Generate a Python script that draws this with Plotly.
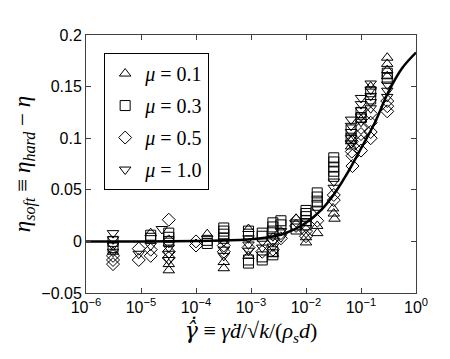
import plotly.graph_objects as go

# fitted curve
curve_x = [1e-6, 1e-5, 1e-4, 1e-3, 3.16e-3, 6.3e-3, 1e-2, 1.78e-2, 3.16e-2, 5.62e-2, 0.1, 0.178, 0.316, 0.562, 1.0]
curve_y = [0.0, 0.0, 0.0005, 0.002, 0.006, 0.012, 0.018, 0.029, 0.045, 0.066, 0.09, 0.115, 0.145, 0.168, 0.183]

x_ticks = [1e-6, 1e-5, 1e-4, 1e-3, 1e-2, 1e-1, 1]
x_ticklabels = ["10<sup>−6</sup>", "10<sup>−5</sup>", "10<sup>−4</sup>", "10<sup>−3</sup>",
                "10<sup>−2</sup>", "10<sup>−1</sup>", "10<sup>0</sup>"]
y_ticks = [-0.05, 0, 0.05, 0.1, 0.15, 0.2]
y_ticklabels = ["−0.05", "0", "0.05", "0.1", "0.15", "0.2"]

# mu = 0.1 (triangle up)
mu01_x = [3.1e-6, 1.5e-5, 3.2e-5, 3.2e-5, 1.6e-4, 3.2e-4, 3.2e-4, 9e-4, 9e-4, 2.5e-3, 6.6e-3,
          0.01, 0.01, 0.016, 0.016, 0.031, 0.032, 0.033, 0.066, 0.066, 0.1, 0.15, 0.3, 0.3, 0.3, 0.3]
mu01_y = [-0.01, 0.008, -0.022, -0.028, 0.007, -0.02, -0.026, -0.014, 0.012, -0.012, 0.022,
          -0.001, 0.004, 0.008, 0.015, 0.032, 0.027, 0.022, 0.097, 0.092, 0.118, 0.15, 0.178, 0.172, 0.166, 0.16]

# mu = 0.3 (square)
mu03_x = [3.1e-6, 3.1e-6, 1.5e-5, 1.5e-5, 3.2e-5, 3.2e-5, 3.2e-5, 1.6e-4, 1.6e-4, 3.2e-4, 3.2e-4, 3.2e-4, 3.2e-4,
          9e-4, 9e-4, 9e-4, 9e-4, 1.6e-3, 1.6e-3, 1.6e-3, 1.6e-3, 2.5e-3, 2.5e-3, 2.5e-3, 2.5e-3, 2.5e-3,
          3.5e-3, 3.5e-3, 6.6e-3, 6.6e-3, 0.01, 0.01, 0.01, 0.01, 0.01, 0.016, 0.016, 0.016, 0.016,
          0.032, 0.032, 0.032, 0.032, 0.032, 0.066, 0.066, 0.1, 0.1, 0.15, 0.15, 0.3, 0.3]
mu03_y = [0.0, -0.006, 0.006, 0.003, 0.008, 0.004, 0.0, 0.001, -0.002, 0.013, 0.01, 0.007, 0.003,
          0.01, 0.007, -0.018, -0.021, 0.008, 0.005, -0.015, -0.018, 0.018, 0.014, 0.01, -0.01, -0.013,
          0.02, 0.016, 0.016, 0.012, 0.03, 0.027, 0.024, 0.02, 0.016, 0.047, 0.043, 0.039, 0.035,
          0.081, 0.077, 0.072, 0.068, 0.063, 0.108, 0.1, 0.125, 0.12, 0.145, 0.138, 0.163, 0.158]

# mu = 0.5 (diamond)
mu05_x = [3.1e-6, 3.1e-6, 3.1e-6, 9.1e-6, 9.1e-6, 1.5e-5, 1.5e-5, 3.2e-5, 3.2e-5, 3.2e-5, 3.2e-5,
          1e-4, 1e-4, 3.2e-4, 3.2e-4, 9e-4, 1.6e-3, 2.5e-3, 2.5e-3, 3.5e-3, 3.5e-3, 6.6e-3, 6.6e-3,
          0.01, 0.01, 0.016, 0.032, 0.032, 0.068, 0.068, 0.07, 0.07, 0.1, 0.1, 0.1, 0.1,
          0.15, 0.15, 0.15, 0.15, 0.3, 0.3, 0.3]
mu05_y = [-0.014, -0.018, -0.022, -0.007, -0.018, -0.008, -0.014, 0.021, 0.0, -0.01, -0.016,
          0.0, -0.004, -0.004, -0.01, -0.006, -0.01, -0.008, 0.002, 0.008, 0.003, 0.02, 0.015,
          0.01, 0.005, 0.02, 0.045, 0.04, 0.097, 0.087, 0.083, 0.073, 0.11, 0.104, 0.097, 0.088,
          0.124, 0.115, 0.106, 0.1, 0.136, 0.131, 0.126]

# mu = 1.0 (triangle down)
mu10_x = [3.1e-6, 3.1e-6, 3.1e-6, 3.1e-6, 9.1e-6, 1.5e-5, 2.4e-5, 3.2e-5, 3.2e-5, 3.2e-5,
          3.2e-4, 3.2e-4, 3.2e-4, 9e-4, 9e-4, 9e-4, 1.6e-3, 1.6e-3, 2.5e-3, 2.5e-3, 2.5e-3,
          3.5e-3, 3.5e-3, 0.01, 0.016, 0.032, 0.032, 0.066, 0.066, 0.066, 0.066, 0.066,
          0.1, 0.1, 0.1, 0.1, 0.1, 0.15, 0.15, 0.15, 0.15, 0.15, 0.3, 0.3, 0.3]
mu10_y = [0.008, 0.002, -0.004, -0.01, -0.012, -0.004, 0.012, -0.006, -0.012, -0.018,
          0.0, -0.008, -0.014, 0.003, -0.003, -0.009, 0.0, -0.006, 0.005, 0.0, -0.005,
          0.01, 0.004, 0.013, 0.031, 0.058, 0.052, 0.118, 0.112, 0.106, 0.1, 0.095,
          0.139, 0.133, 0.127, 0.121, 0.116, 0.153, 0.147, 0.141, 0.135, 0.129, 0.152, 0.146, 0.14]

series = [
    (mu01_x, mu01_y, "triangle-up-open", "<i>μ</i> = 0.1"),
    (mu03_x, mu03_y, "square-open", "<i>μ</i> = 0.3"),
    (mu05_x, mu05_y, "diamond-open", "<i>μ</i> = 0.5"),
    (mu10_x, mu10_y, "triangle-down-open", "<i>μ</i> = 1.0"),
]

fig = go.Figure()
for i, (xs, ys, sym, name) in enumerate(series):
    fig.add_trace(go.Scatter(x=xs, y=ys, mode="markers", name=name, legendgroup=str(i),
                             marker=dict(symbol=sym, size=10, color="black", line=dict(width=1, color="black"))))

fig.add_trace(go.Scatter(x=curve_x, y=curve_y, mode="lines", line=dict(color="black", width=2.5, shape="spline"),
                         showlegend=False))

axis_common = dict(showline=True, linecolor="#404040", linewidth=1, mirror="ticks", ticks="inside",
                   ticklen=5, tickcolor="#404040", showgrid=False, zeroline=False,
                   tickfont=dict(family="Liberation Sans", size=16, color="black"))

gamma_hat = '<span style="font-family:DejaVu Serif">γ̂̇</span>'

fig.update_layout(
    width=450, height=359,
    margin=dict(l=78, r=42, t=27, b=74),
    plot_bgcolor="white", paper_bgcolor="white",
    xaxis=dict(type="log", range=[-6, 0], tickvals=x_ticks, ticktext=x_ticklabels,
               title=dict(text="<i>" + gamma_hat + "</i> ≡ <i>γ̇d</i>/√<i>k</i>/(<i>ρ<sub>s</sub>d</i>)",
                          font=dict(family="Liberation Serif", size=22, color="black"), standoff=4),
               **axis_common),
    yaxis=dict(range=[-0.05, 0.2], tickvals=y_ticks, ticktext=y_ticklabels,
               title=dict(text="<i>η<sub>soft</sub></i> ≡ <i>η<sub>hard</sub></i> − <i>η</i>",
                          font=dict(family="Liberation Serif", size=23, color="black"), standoff=4),
               **axis_common),
    legend=dict(x=0.055, y=0.93, xanchor="left", yanchor="top", bgcolor="white",
                bordercolor="black", borderwidth=1, tracegroupgap=3,
                font=dict(family="Liberation Serif", size=20, color="black")),
)

fig.write_html("out.html")
